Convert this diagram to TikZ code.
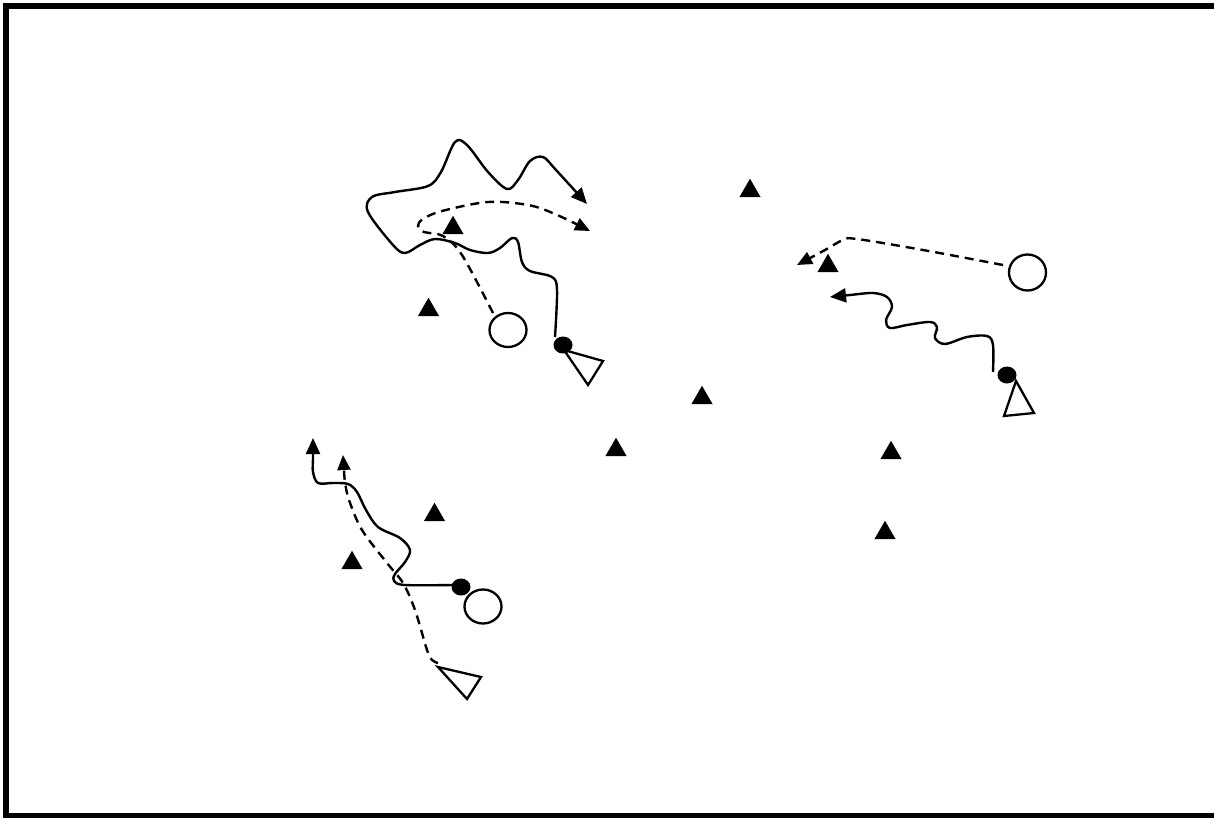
\documentclass[tikz,border=0pt]{standalone}
\usetikzlibrary{shapes.geometric,arrows.meta}

\tikzset{
  cone/.style={regular polygon, regular polygon sides=3, fill=black, draw=none,
    minimum size=24.5pt, inner sep=0pt},
  player/.style={ellipse, draw=black, line width=2.3pt, fill=white, inner sep=0pt,
    minimum width=37pt, minimum height=34pt},
  ball/.style={ellipse, fill=black, draw=none, inner sep=0pt,
    minimum width=19pt, minimum height=17pt},
  carrier/.style={draw=black, line width=2.3pt, fill=white, line join=miter},
  run/.style={draw=black, line width=2.4pt, dash pattern=on 9pt off 6pt,
    -{Triangle[length=15pt,width=13pt]}},
  dribble/.style={draw=black, line width=2.4pt,
    -{Triangle[length=16pt,width=14pt]}},
}

\begin{document}
\begin{tikzpicture}[x=1pt,y=-1pt]
\useasboundingbox (0,0) rectangle (1214,817);
% pitch frame
\draw[line width=6pt] (1240,6) -- (6,6) -- (6,816) -- (1240,816);

% cones
\node[cone] (c1)  at (750,191) {};
\node[cone] (c2)  at (453,228) {};
\node[cone] (c3)  at (428.5,310) {};
\node[cone] (c4)  at (702,398) {};
\node[cone] (c5)  at (616,450) {};
\node[cone] (c6)  at (891,453) {};
\node[cone] (c7)  at (885,533) {};
\node[cone] (c8)  at (828,266) {};
\node[cone] (c9)  at (434.5,515) {};
\node[cone] (c10) at (352,563) {};

% players without the ball
\node[player] (pA) at (508,330) {};
\node[player, minimum width=37pt, minimum height=36pt] (pB) at (1027.5,272.5) {};
\node[player] (pC) at (483,606.5) {};

% players carrying the ball
\coordinate (tA1) at (564,350); \coordinate (tA2) at (603,361); \coordinate (tA3) at (588,385);
\coordinate (tB1) at (1016,381); \coordinate (tB2) at (1034,413); \coordinate (tB3) at (1004,416);
\coordinate (tC1) at (438,667); \coordinate (tC2) at (481,677); \coordinate (tC3) at (467,699);
\draw[carrier] (tA1) -- (tA2) -- (tA3) -- cycle;
\draw[carrier] (tB1) -- (tB2) -- (tB3) -- cycle;
\draw[carrier] (tC1) -- (tC2) -- (tC3) -- cycle;
\node[ball] (bA) at (563,345) {};
\node[ball] (bB) at (1007,375) {};
\node[ball] (bC) at (461,587) {};

% end points of the moves
\coordinate (eA1) at (587,204);
\coordinate (eA2) at (590,231);
\coordinate (eB1) at (830,297);
\coordinate (eB2) at (797,265);
\coordinate (eC1) at (313,438);
\coordinate (eC2) at (343,455);

% dribbles
\draw[dribble] plot[smooth, tension=0.55] coordinates {
  (555,337) (557,290) (552,277) (530,271) (522,262) (518,242) (512,238)
  (500,248) (488,253) (470,250) (455,243) (435,239) (420,245) (405,253)
  (393,245) (368,212) (372,197) (395,192) (428,186) (441,172) (455,142)
  (467,145) (488,172) (507,189) (518,180) (530,161) (543,157) (556,170) (eA1)};
\draw[dribble] plot[smooth, tension=0.55] coordinates {
  (993,372) (993,345) (987,336) (967,337) (945,344) (935,338) (937,327)
  (930,322) (907,325) (890,328) (886,320) (892,307) (887,297) (873,293)
  (850,295) (eB1)};
\draw[dribble] plot[smooth, tension=0.55] coordinates {
  (453,585) (405,585) (394,581) (395,574) (405,562) (410,550) (400,538)
  (378,527) (366,510) (357,492) (348,484) (333,483) (318,483) (313,472)
  (313,458) (eC1)};

% runs without the ball
\draw[run] plot[smooth, tension=0.55] coordinates {
  (493,313) (462,255) (443,236) (424,232) (418,226) (423,219) (442,211)
  (488,202) (528,205) (555,214) (eA2)};
\draw[run] plot[smooth, tension=0.55] coordinates {
  (1003,265) (923,250) (857,239) (843,240) (825,250) (eB2)};
\draw[run] plot[smooth, tension=0.55] coordinates {
  (438,663) (432,660) (427,650) (415,610) (403,583) (387,563) (362,530)
  (349,500) (345,482) (344,470) (eC2)};
\end{tikzpicture}
\end{document}
